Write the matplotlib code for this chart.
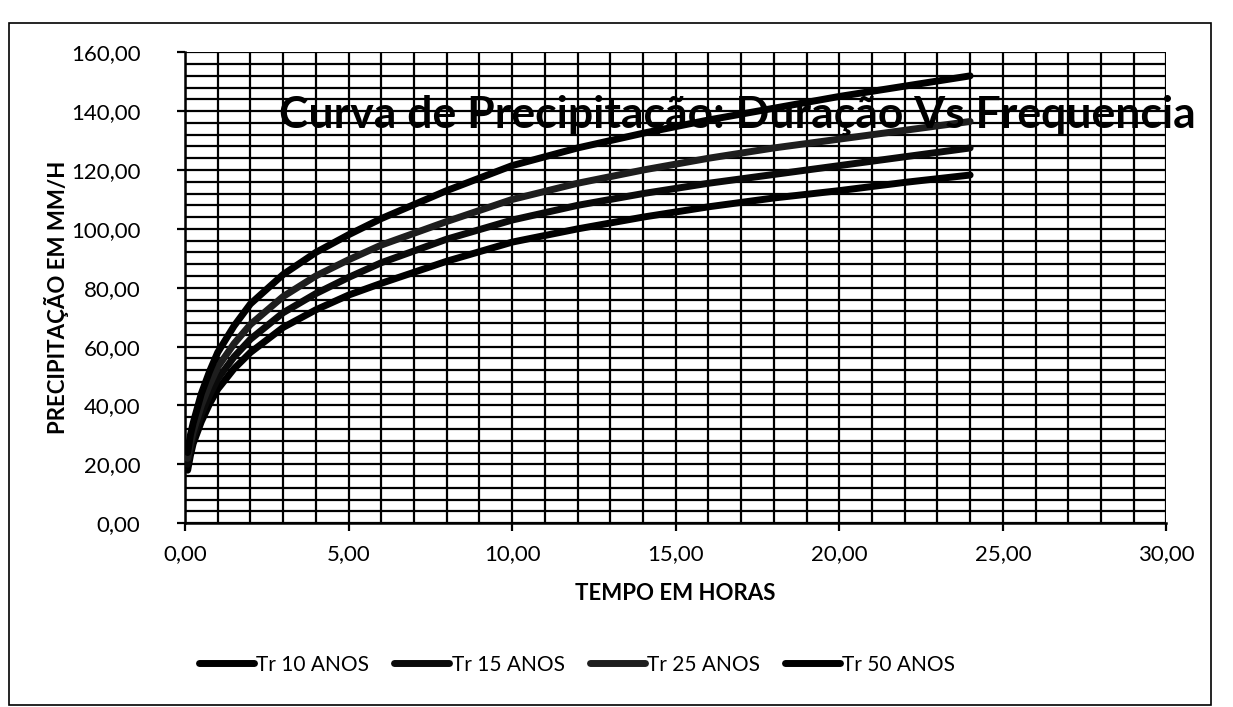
import matplotlib
matplotlib.use("Agg")
import matplotlib.pyplot as plt
from matplotlib.patches import Rectangle
import numpy as np

plt.rcParams['font.family'] = ['Lato', 'DejaVu Sans']

# Data (duration in hours, precipitation in mm)
hours = [0.083, 0.167, 0.25, 0.5, 0.75, 1, 1.5, 2, 3, 4, 5, 6, 8, 10, 12, 14, 16, 18, 20, 22, 24]
tr10 = [18, 23, 27, 34.5, 40.5, 45.5, 52.5, 58, 66.5, 72.5, 77.5, 81.5, 89, 95.5, 100, 104, 107.5, 110.5, 113, 115.8, 118.3]
tr15 = [20, 25, 29, 37, 43.5, 49, 56.5, 62.5, 71.5, 78, 83.5, 88.5, 96.5, 103, 108, 112, 115.5, 118.5, 121.5, 124.5, 127.5]
tr25 = [22, 27, 31, 40, 47, 53, 61, 67.5, 77, 84, 89.5, 94.5, 102.5, 110, 115.5, 120, 124, 127.5, 130.5, 133.5, 136.5]
tr50 = [24, 30, 34, 44, 51.5, 58, 67, 74.5, 84.5, 92, 98, 103.5, 113, 121.5, 127.5, 132.5, 137, 141, 145, 148.5, 152]
series_names = ["Tr 10 ANOS", "Tr 15 ANOS", "Tr 25 ANOS", "Tr 50 ANOS"]
series_colors = ["#000000", "#0a0a0a", "#1e1e1e", "#000000"]

title_text = "Curva de Precipitação: Duração Vs Frequencia"
xlabel_text = "TEMPO EM HORAS"
ylabel_text = "PRECIPITAÇÃO EM MM/H"

fig = plt.figure(figsize=(12.33, 7.07), dpi=100)
fig.patch.set_facecolor("white")
ax = fig.add_axes([0.150, 0.260, 0.796, 0.666])

for vals, name, col in zip([tr10, tr15, tr25, tr50], series_names, series_colors):
    ax.plot(hours, vals, color=col, lw=5, solid_capstyle='round', solid_joinstyle='round',
            label=name, zorder=3)

ax.set_xlim(0, 30)
ax.set_ylim(0, 160)
ax.set_xticks(np.arange(0, 30.01, 5))
ax.set_xticks(np.arange(0, 30.01, 1), minor=True)
ax.set_yticks(np.arange(0, 160.01, 20))
ax.set_yticks(np.arange(0, 160.01, 4), minor=True)
ax.set_xticklabels([f"{v:.2f}".replace('.', ',') for v in np.arange(0, 30.01, 5)])
ax.set_yticklabels([f"{v:.2f}".replace('.', ',') for v in np.arange(0, 160.01, 20)])
ax.grid(which='both', color='black', lw=1.6, zorder=1)
ax.set_axisbelow(True)
for s in ['top', 'right']:
    ax.spines[s].set_visible(False)
for s in ['left', 'bottom']:
    ax.spines[s].set_linewidth(1.8)
ax.tick_params(which='major', length=6, width=1.6, labelsize=16)
ax.tick_params(axis='y', which='major', pad=26)
ax.tick_params(axis='x', which='major', pad=9)
ax.tick_params(which='minor', length=0)

ax.set_xlabel(xlabel_text, fontsize=16, fontweight='bold', labelpad=14)
ax.set_ylabel(ylabel_text, fontsize=16, fontweight='bold')
ax.yaxis.set_label_coords(-0.118, 0.48)

fig.text(0.970, 0.838, title_text, fontsize=32, fontweight='bold', ha='right', va='center', zorder=5)

leg = fig.legend(loc='center', bbox_to_anchor=(0.468, 0.06), ncol=4, frameon=False,
                 fontsize=15, handlelength=2.64, handletextpad=0.1, columnspacing=1.2)

fig.patches.append(Rectangle((0.007, 0.003), 0.975, 0.965, transform=fig.transFigure,
                             fill=False, edgecolor='black', lw=1.2))

fig.savefig("out.png", dpi=100, facecolor='white')
